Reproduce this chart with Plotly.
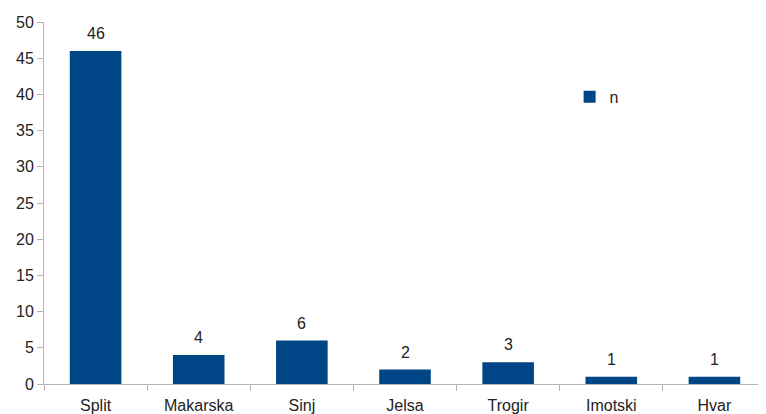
import plotly.graph_objects as go

categories = ["Split", "Makarska", "Sinj", "Jelsa", "Trogir", "Imotski", "Hvar"]
values = [46, 4, 6, 2, 3, 1, 1]
y_ticks = [0, 5, 10, 15, 20, 25, 30, 35, 40, 45, 50]

FONT = "Liberation Sans, Arial, sans-serif"

fig = go.Figure()
fig.add_trace(go.Bar(
    x=categories, y=values, name="n",
    marker=dict(color="#004586", line=dict(width=0)),
    width=0.5,
))
for c, v in zip(categories, values):
    fig.add_annotation(x=c, y=v, text=str(v), showarrow=False,
                       yanchor="bottom", yshift=7,
                       font=dict(size=16, color="#222222", family=FONT))

# page body has an 8px default margin, so the figure is sized/offset to compensate
fig.update_layout(
    width=758, height=406,
    margin=dict(l=36, r=0, t=14, b=30, autoexpand=False),
    paper_bgcolor="white", plot_bgcolor="white",
    font=dict(family=FONT, size=16, color="#222222"),
    showlegend=True,
    legend=dict(x=0.728, y=0.793, xanchor="left", yanchor="middle",
                bgcolor="rgba(0,0,0,0)", font=dict(size=16, color="#222222"),
                itemwidth=30),
    bargap=0.5,
)
fig.update_yaxes(
    range=[0, 50], tickvals=y_ticks, showgrid=False,
    showline=True, linecolor="#b3b3b3", linewidth=1,
    ticks="outside", ticklen=6, tickcolor="#b3b3b3",
    tickfont=dict(size=16, color="#222222"), zeroline=False, automargin=False,
)
fig.update_xaxes(
    showgrid=False, showline=True, linecolor="#b3b3b3", linewidth=1,
    ticks="outside", ticklen=6, tickcolor="#b3b3b3", tickson="boundaries",
    ticklabelstandoff=7,
    tickfont=dict(size=16, color="#222222"), automargin=False,
)

fig.write_html("out.html")
